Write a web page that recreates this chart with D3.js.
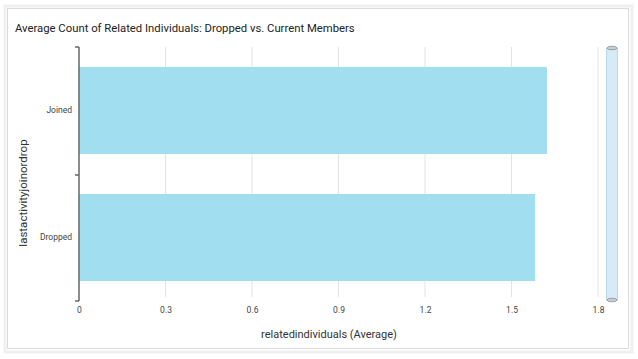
<!DOCTYPE html>
<html><head><meta charset="utf-8">
<script src="https://cdn.jsdelivr.net/npm/d3@7"></script>
<style>
html,body{margin:0;padding:0;background:#fff;}
svg{display:block;font-family:Roboto,"Open Sans",sans-serif;}
</style></head>
<body>
<svg id="c" width="638" height="359"></svg>
<script>
const categories = ["Joined", "Dropped"];
const values = [1.623, 1.582];
const xTicks = [0, 0.3, 0.6, 0.9, 1.2, 1.5, 1.8];
const title = "Average Count of Related Individuals: Dropped vs. Current Members";
const xLabel = "relatedindividuals (Average)";
const yLabel = "lastactivityjoinordrop";

const svg = d3.select("#c");
// card
svg.append("rect").attr("x",5).attr("y",6).attr("width",627).attr("height",346).attr("fill","none").attr("stroke","#f0f0f0").attr("stroke-width",3);
svg.append("rect").attr("x",7.5).attr("y",8.5).attr("width",621).attr("height",340).attr("fill","#fff").attr("stroke","#dcdcdc").attr("stroke-width",1);

svg.append("text").attr("x",15).attr("y",32).attr("font-size",11.3).attr("fill","#222").text(title);

const x = d3.scaleLinear().domain([0,1.8]).range([79,598]);
const y = d3.scaleBand().domain(categories).range([47,301]).paddingInner(0.315).paddingOuter(0.1575);

// grid
svg.append("g").selectAll("line").data(xTicks.slice(1)).join("line")
  .attr("x1",d=>x(d)).attr("x2",d=>x(d)).attr("y1",47).attr("y2",297)
  .attr("stroke","#e3e3e3").attr("stroke-width",1);

// bars
svg.append("g").selectAll("rect").data(categories).join("rect")
  .attr("x",x(0)).attr("y",d=>y(d)).attr("height",y.bandwidth())
  .attr("width",(d,i)=>x(values[i])-x(0)).attr("fill","#a1def0");

// y axis
const ya = svg.append("g").attr("transform","translate(79,0)");
ya.append("line").attr("x1",0).attr("x2",0).attr("y1",47).attr("y2",301).attr("stroke","#666").attr("stroke-width",1.5);
[47,175,301].forEach(v=>ya.append("line").attr("x1",-4).attr("x2",0).attr("y1",v).attr("y2",v).attr("stroke","#666").attr("stroke-width",1.5));
ya.selectAll("text.cat").data(categories).join("text").attr("class","cat")
  .attr("x",-7).attr("y",d=>y(d)+y.bandwidth()/2).attr("dy","0.35em")
  .attr("text-anchor","end").attr("font-size",8.5).attr("fill","#444").text(d=>d);

// x axis labels
const xa = d3.axisBottom(x).tickValues(xTicks).tickSize(0).tickPadding(0).tickFormat(d=>d===0?"0":d3.format(".1f")(d));
const gx = svg.append("g").attr("transform","translate(0,307)").call(xa);
gx.select(".domain").remove();
gx.selectAll("text").attr("font-size",8.5).attr("fill","#444").attr("font-family","Roboto,'Open Sans',sans-serif");

svg.append("text").attr("x",329).attr("y",338).attr("text-anchor","middle").attr("font-size",11).attr("fill","#333").text(xLabel);
svg.append("text").attr("transform","translate(27,193) rotate(-90)").attr("text-anchor","middle").attr("font-size",11.5).attr("fill","#333").text(yLabel);

// scrollbar
svg.append("rect").attr("x",606.5).attr("y",48).attr("width",11).attr("height",252).attr("fill","#d6ebf7").attr("stroke","#b8d6e8").attr("stroke-width",1);
[48,300].forEach(v=>svg.append("ellipse").attr("cx",612).attr("cy",v).attr("rx",5).attr("ry",1.8).attr("fill","#c7ccd0").attr("stroke","#8c9296").attr("stroke-width",0.8));
</script>
</body></html>
